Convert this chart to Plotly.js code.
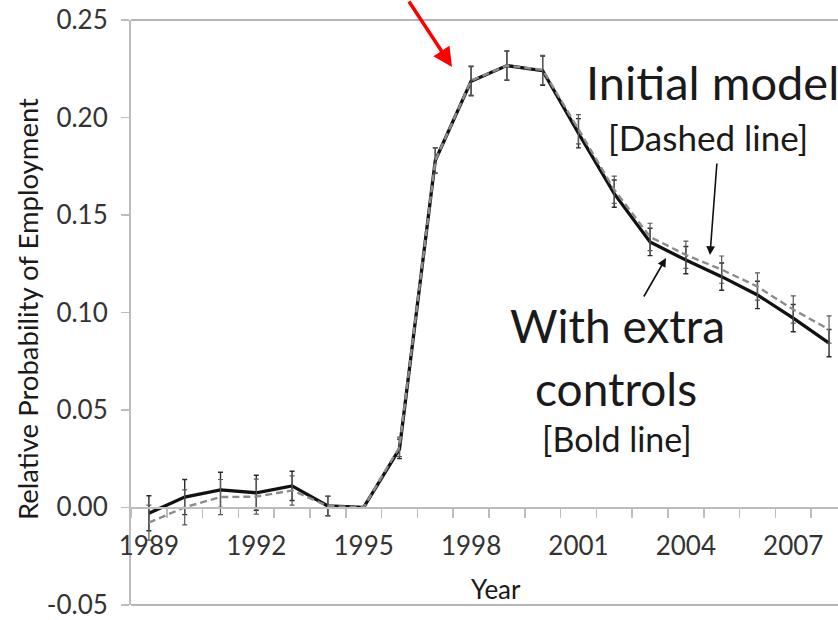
<!DOCTYPE html>
<html>
<head>
<meta charset="utf-8">
<script src="https://cdn.plot.ly/plotly-3.0.1.min.js"></script>
<style>html,body{margin:0;padding:0;background:#fff;overflow:hidden;}</style>
</head>
<body>
<div id="chart" style="width:838px;height:620px;"></div>
<script>
// ---- data ----
const years = [1989,1990,1991,1992,1993,1994,1995,1996,1997,1998,1999,2000,2001,2002,2003,2004,2005,2006,2007,2008];
const boldModel = [-0.003,0.0053,0.009,0.0075,0.011,0.0007,0.0,0.030,0.178,0.2187,0.2267,0.2241,0.192,0.161,0.1362,0.1269,0.1184,0.109,0.0971,0.0843];
const dashedModel = [-0.0078,0.0,0.0053,0.0055,0.0087,0.0007,0.0,0.031,0.178,0.219,0.2267,0.2245,0.194,0.163,0.1388,0.1296,0.122,0.1133,0.1015,0.0913];
const boldErr = [0.009,0.009,0.009,0.009,0.0075,0.005,0.0,0.005,0.0065,0.0075,0.0075,0.0075,0.0075,0.007,0.007,0.007,0.007,0.007,0.007,0.007];
const dashedErr = [0.009,0.009,0.009,0.009,0.0075,0.005,0.0,0.005,0.0065,0.0075,0.0075,0.0075,0.0075,0.007,0.007,0.007,0.007,0.007,0.007,0.007];
const xTickVals = [1989,1992,1995,1998,2001,2004,2007];
const xTickText = ['1989','1992','1995','1998','2001','2004','2007'];
const yTickVals = [-0.05,0,0.05,0.10,0.15,0.20,0.25];
const yTickText = ['-0.05','0.00','0.05','0.10','0.15','0.20','0.25'];

const FONT = 'Lato, "Open Sans", sans-serif';
const W = 838, H = 620;
const M = {l:131, r:0, t:20, b:15};
const xRange = [1988.5, 2008.25];
const yRange = [-0.0501, 0.2501];
// convert pixel placement to paper coords for annotations
const px = x => (x - M.l) / (W - M.l - M.r);
const py = y => 1 - (y - M.t) / (H - M.t - M.b);

const traces = [
  {
    x: years, y: boldModel, type: 'scatter', mode: 'lines', name: 'With extra controls',
    line: {color: '#111', width: 3.3},
    error_y: {type: 'data', array: boldErr, visible: true, color: '#2a2a2a', thickness: 1.4, width: 2.5}
  },
  {
    x: years, y: dashedModel, type: 'scatter', mode: 'lines', name: 'Initial model',
    line: {color: '#8c8c8c', width: 2.4, dash: '7px,4px'},
    error_y: {type: 'data', array: dashedErr, visible: true, color: '#5a5a5a', thickness: 1.2, width: 2.5}
  }
];

const annFont = (s) => ({family: FONT, size: s, color: '#1a1a1a'});
const layout = {
  width: W, height: H,
  margin: M,
  paper_bgcolor: '#fff', plot_bgcolor: '#fff',
  showlegend: false,
  font: {family: FONT, color: '#333'},
  xaxis: {
    range: xRange, anchor: 'free', position: (0 - yRange[0]) / (yRange[1] - yRange[0]),
    showline: true, linecolor: '#bdbdbd', linewidth: 1.5,
    tickmode: 'array', tickvals: xTickVals, ticktext: xTickText,
    ticks: 'outside', ticklen: 15, tickcolor: 'rgba(0,0,0,0)',
    showgrid: false, zeroline: false,
    ticklabeloverflow: 'allow',
    tickfont: {family: FONT, size: 26, color: '#333'},
    minor: {ticks: 'outside', tickmode: 'linear', tick0: 1988.5, dtick: 1, ticklen: 9, tickwidth: 1.5, tickcolor: '#bdbdbd', showgrid: false}
  },
  yaxis: {
    range: yRange,
    tickmode: 'array', tickvals: yTickVals, ticktext: yTickText,
    ticks: 'outside', ticklen: 8, tickwidth: 1.5, tickcolor: '#bdbdbd',
    ticklabelstandoff: 8,
    ticklabeloverflow: 'allow',
    showline: true, linecolor: '#bdbdbd', linewidth: 2,
    showgrid: false, zeroline: false,
    tickfont: {family: FONT, size: 26, color: '#333'}
  },
  shapes: [
    {type: 'line', xref: 'paper', yref: 'paper', x0: 0, x1: 1, y0: 1, y1: 1, line: {color: '#b5b5b5', width: 2}},
    {type: 'line', xref: 'paper', yref: 'paper', x0: 0, x1: 1, y0: 0, y1: 0, line: {color: '#b5b5b5', width: 2}}
  ],
  annotations: [
    {xref: 'paper', yref: 'paper', x: px(27), y: py(309), text: 'Relative Probability of Employment', textangle: -90,
     showarrow: false, xanchor: 'center', yanchor: 'middle', font: annFont(27.5)},
    {xref: 'paper', yref: 'paper', x: px(496), y: py(589), text: 'Year',
     showarrow: false, xanchor: 'center', yanchor: 'middle', font: annFont(26)},
    {xref: 'paper', yref: 'paper', x: px(712), y: py(82), text: 'Initial model',
     showarrow: false, xanchor: 'center', yanchor: 'middle', font: annFont(47)},
    {xref: 'paper', yref: 'paper', x: px(708), y: py(137), text: '[Dashed line]',
     showarrow: false, xanchor: 'center', yanchor: 'middle', font: annFont(35)},
    {xref: 'paper', yref: 'paper', x: px(617), y: py(325), text: 'With extra',
     showarrow: false, xanchor: 'center', yanchor: 'middle', font: annFont(46)},
    {xref: 'paper', yref: 'paper', x: px(616), y: py(388), text: 'controls',
     showarrow: false, xanchor: 'center', yanchor: 'middle', font: annFont(46)},
    {xref: 'paper', yref: 'paper', x: px(617), y: py(438), text: '[Bold line]',
     showarrow: false, xanchor: 'center', yanchor: 'middle', font: annFont(34)},
    // arrows
    {xref: 'paper', yref: 'paper', x: px(710), y: py(255), ax: 717 - 710, ay: 162 - 255, text: '',
     showarrow: true, arrowhead: 2, arrowsize: 1.1, arrowwidth: 1.6, arrowcolor: '#111'},
    {xref: 'paper', yref: 'paper', x: px(666), y: py(258), ax: 643 - 666, ay: 298 - 258, text: '',
     showarrow: true, arrowhead: 2, arrowsize: 1.1, arrowwidth: 1.6, arrowcolor: '#111'},
    {xref: 'paper', yref: 'paper', x: px(452), y: py(67), ax: 408 - 452, ay: -8 - 67, text: '',
     showarrow: true, arrowhead: 2, arrowsize: 1.1, arrowwidth: 3.5, arrowcolor: '#ff0000'}
  ]
};

Plotly.newPlot('chart', traces, layout, {displayModeBar: false, staticPlot: true});
</script>
</body>
</html>
